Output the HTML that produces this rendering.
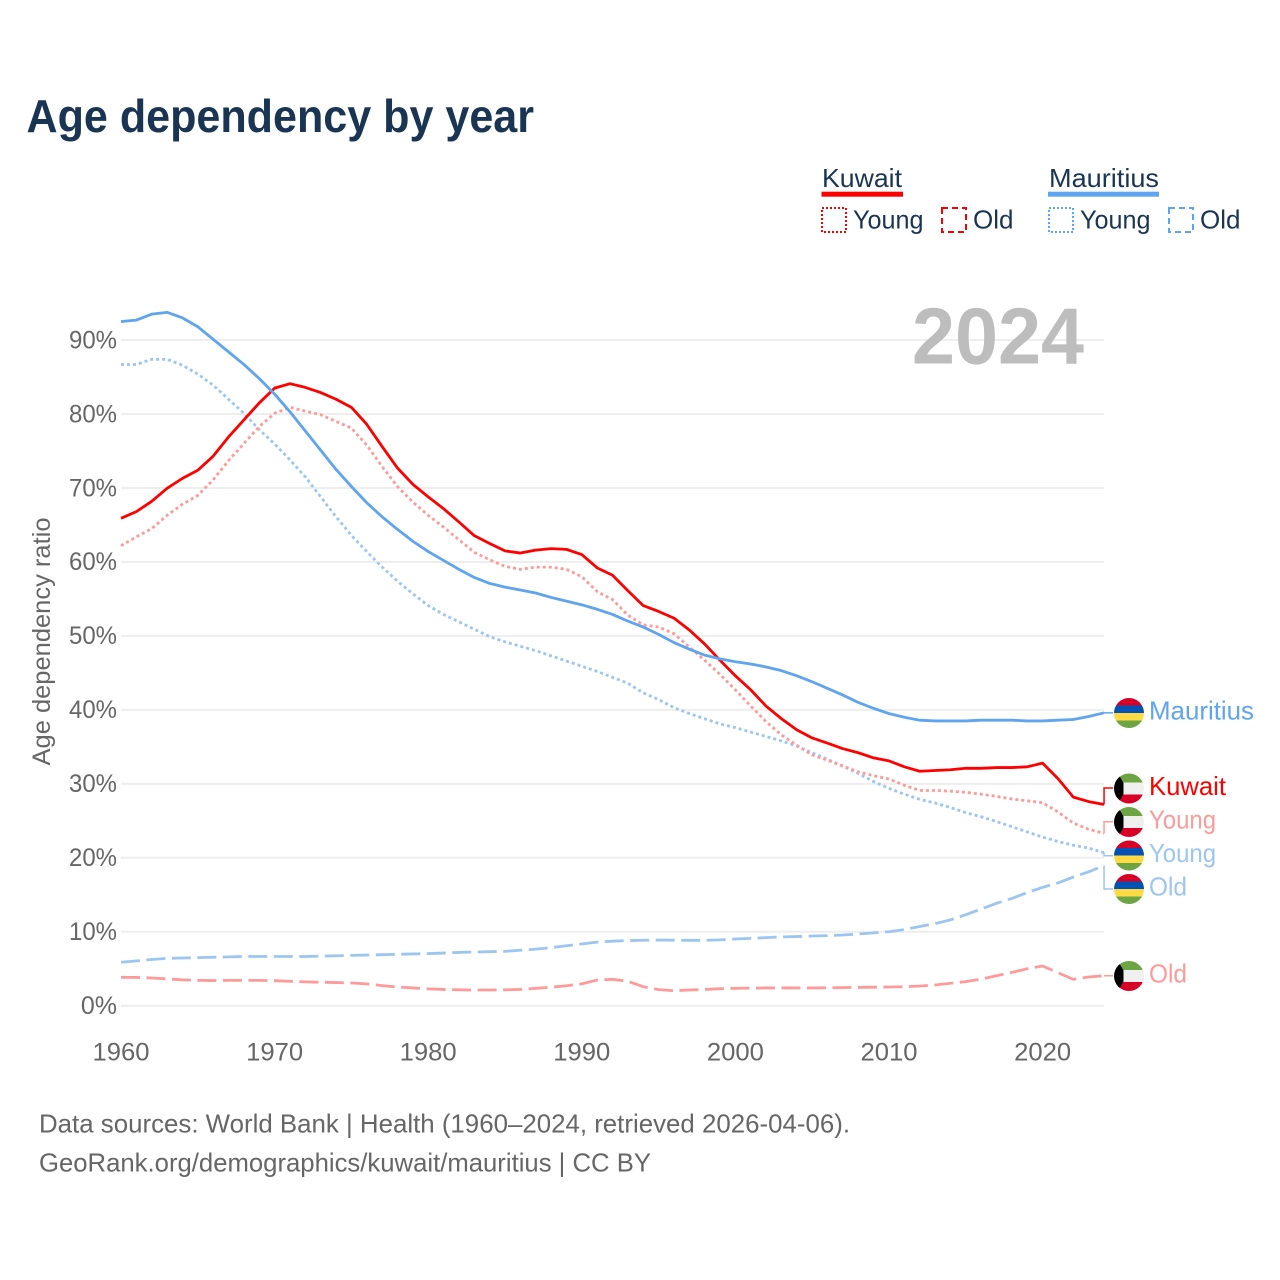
<!DOCTYPE html>
<html lang="en">
<head>
<meta charset="utf-8">
<title>Age dependency by year</title>
<style>
html,body{margin:0;padding:0;background:#fff;width:1280px;height:1280px;overflow:hidden}
svg{display:block}
text{font-family:"Liberation Sans",sans-serif}
</style>
</head>
<body>
<svg id="chart" xmlns="http://www.w3.org/2000/svg" width="1280" height="1280" viewBox="0 0 1280 1280">
  <defs>
    <clipPath id="flag-clip"><circle cx="0" cy="0" r="15"/></clipPath>
    <g id="flag-mu" clip-path="url(#flag-clip)">
      <rect x="-15" y="-15" width="30" height="7.5" fill="#d80027"/>
      <rect x="-15" y="-7.5" width="30" height="7.5" fill="#0052b4"/>
      <rect x="-15" y="0" width="30" height="7.5" fill="#ffda44"/>
      <rect x="-15" y="7.5" width="30" height="7.5" fill="#6da544"/>
    </g>
    <g id="flag-kw" clip-path="url(#flag-clip)">
      <rect x="-15" y="-15" width="30" height="9" fill="#6da544"/>
      <rect x="-15" y="-6" width="30" height="12" fill="#f0f0f0"/>
      <rect x="-15" y="6" width="30" height="9" fill="#d80027"/>
      <polygon points="-15,-15 -9.5,-12.5 -5.5,-5.5 -5.5,5.5 -9.5,12.5 -15,15" fill="#000"/>
    </g>
  </defs>

  <text x="26.5" y="132" font-size="46" font-weight="700" fill="#1a3554" textLength="507.5" lengthAdjust="spacingAndGlyphs">Age dependency by year</text>

  <g id="grid"></g>
  <g id="yticks"></g>
  <g id="xticks"></g>

  <text transform="translate(50,641.5) rotate(-90)" text-anchor="middle" font-size="25" fill="#666" textLength="248" lengthAdjust="spacingAndGlyphs">Age dependency ratio</text>

  <text x="912" y="363.5" font-size="80" font-weight="700" fill="#bdbdbd" textLength="172" lengthAdjust="spacingAndGlyphs">2024</text>

  <g id="series"></g>

  <g>
    <text x="822" y="187" font-size="26" fill="#1a3554" textLength="80" lengthAdjust="spacingAndGlyphs">Kuwait</text>
    <rect x="821.5" y="191.7" width="81.5" height="5" fill="#ff0000"/>
    <rect x="822" y="208" width="24" height="24" fill="none" stroke="#ff0000" stroke-width="2" stroke-dasharray="2 2"/>
    <text x="853" y="228.5" font-size="26" fill="#1a3554" textLength="70.5" lengthAdjust="spacingAndGlyphs">Young</text>
    <rect x="942" y="208" width="24" height="24" fill="none" stroke="#ff0000" stroke-width="2" stroke-dasharray="6 4"/>
    <text x="973" y="228.5" font-size="26" fill="#1a3554" textLength="40.5" lengthAdjust="spacingAndGlyphs">Old</text>

    <text x="1049" y="187" font-size="26" fill="#1a3554" textLength="110" lengthAdjust="spacingAndGlyphs">Mauritius</text>
    <rect x="1048" y="191.7" width="111" height="5" fill="#5fa4ef"/>
    <rect x="1049" y="208" width="24" height="24" fill="none" stroke="#5fa4ef" stroke-width="2" stroke-dasharray="2 2"/>
    <text x="1080" y="228.5" font-size="26" fill="#1a3554" textLength="70.5" lengthAdjust="spacingAndGlyphs">Young</text>
    <rect x="1169" y="208" width="24" height="24" fill="none" stroke="#5fa4ef" stroke-width="2" stroke-dasharray="6 4"/>
    <text x="1200" y="228.5" font-size="26" fill="#1a3554" textLength="40.5" lengthAdjust="spacingAndGlyphs">Old</text>
  </g>

  <g>
    <use href="#flag-mu" x="1129" y="713"/>
    <text x="1149" y="719.5" font-size="26" fill="#5fa4ef" textLength="105" lengthAdjust="spacingAndGlyphs">Mauritius</text>
    <use href="#flag-kw" x="1129" y="788.5"/>
    <text x="1149" y="795" font-size="26" fill="#ff0000" textLength="77" lengthAdjust="spacingAndGlyphs">Kuwait</text>
    <use href="#flag-kw" x="1129" y="822"/>
    <text x="1149" y="828.5" font-size="26" fill="#ff9a9a" textLength="67" lengthAdjust="spacingAndGlyphs">Young</text>
    <use href="#flag-mu" x="1129" y="855.5"/>
    <text x="1149" y="862" font-size="26" fill="#9cc6f1" textLength="67" lengthAdjust="spacingAndGlyphs">Young</text>
    <use href="#flag-mu" x="1129" y="889"/>
    <text x="1149" y="895.5" font-size="26" fill="#9cc6f1" textLength="38" lengthAdjust="spacingAndGlyphs">Old</text>
    <use href="#flag-kw" x="1129" y="976"/>
    <text x="1149" y="982.5" font-size="26" fill="#ff9a9a" textLength="38" lengthAdjust="spacingAndGlyphs">Old</text>
  </g>

  <text x="39" y="1132.7" font-size="26" fill="#666" textLength="811" lengthAdjust="spacingAndGlyphs">Data sources: World Bank | Health (1960–2024, retrieved 2026-04-06).</text>
  <text x="39" y="1171.7" font-size="26" fill="#666" textLength="612" lengthAdjust="spacingAndGlyphs">GeoRank.org/demographics/kuwait/mauritius | CC BY</text>
</svg>

<script>
const startYear = 1960;
const xTickYears = [1960, 1970, 1980, 1990, 2000, 2010, 2020];
const yTickValues = [0, 10, 20, 30, 40, 50, 60, 70, 80, 90];

const mauritiusTotal = [92.5,92.7,93.5,93.75,93.0,91.8,90.1,88.4,86.7,84.8,82.7,80.3,77.7,75.1,72.5,70.2,68.0,66.1,64.4,62.8,61.4,60.2,59.0,57.9,57.1,56.6,56.2,55.8,55.2,54.7,54.2,53.6,52.9,52.0,51.2,50.2,49.1,48.2,47.4,46.9,46.5,46.2,45.8,45.3,44.6,43.8,42.9,42.0,41.0,40.2,39.5,39.0,38.6,38.5,38.5,38.5,38.6,38.6,38.6,38.5,38.5,38.6,38.7,39.1,39.6];
const kuwaitTotal = [65.9,66.8,68.2,69.95,71.3,72.4,74.3,76.9,79.2,81.5,83.5,84.1,83.6,82.9,82.0,80.9,78.6,75.6,72.7,70.5,68.8,67.2,65.4,63.55,62.5,61.5,61.2,61.6,61.8,61.7,61.0,59.2,58.2,56.1,54.1,53.3,52.4,50.8,48.9,46.7,44.6,42.7,40.5,38.8,37.3,36.2,35.5,34.75,34.2,33.5,33.1,32.3,31.7,31.8,31.9,32.1,32.1,32.2,32.2,32.3,32.8,30.7,28.2,27.6,27.2];
const kuwaitYoung = [62.2,63.4,64.5,66.3,67.8,69.0,71.1,73.7,76.0,78.3,80.1,80.9,80.4,79.9,79.0,78.1,75.8,72.9,70.2,68.1,66.3,64.7,63.0,61.3,60.3,59.4,59.0,59.3,59.3,59.0,58.0,56.0,54.9,52.8,51.5,51.2,50.3,48.5,46.7,44.8,42.7,40.5,38.4,36.6,35.2,33.9,33.2,32.4,31.6,31.1,30.65,29.8,29.1,29.1,29.0,28.85,28.6,28.3,27.95,27.7,27.45,26.2,24.7,23.85,23.3];
const mauritiusYoung = [86.7,86.7,87.4,87.4,86.6,85.4,83.9,82.0,80.1,77.9,75.95,73.8,71.5,68.8,66.1,63.6,61.4,59.3,57.4,55.7,54.1,52.9,51.9,50.9,49.9,49.2,48.6,48.0,47.3,46.6,45.9,45.2,44.4,43.6,42.3,41.4,40.3,39.5,38.8,38.1,37.6,37.0,36.4,35.8,35.1,34.2,33.3,32.4,31.4,30.3,29.4,28.6,27.9,27.4,26.8,26.1,25.55,24.9,24.2,23.5,22.8,22.2,21.7,21.3,20.7];
const mauritiusOld = [5.87,6.05,6.25,6.4,6.45,6.5,6.55,6.6,6.65,6.65,6.65,6.65,6.65,6.7,6.75,6.8,6.85,6.9,6.95,7.0,7.05,7.12,7.2,7.25,7.3,7.35,7.5,7.65,7.85,8.1,8.35,8.6,8.72,8.8,8.85,8.88,8.86,8.84,8.84,8.9,9.02,9.1,9.2,9.3,9.35,9.42,9.47,9.56,9.7,9.85,10.0,10.3,10.7,11.1,11.6,12.3,13.07,13.85,14.5,15.3,16.0,16.6,17.4,18.1,18.95];
const kuwaitOld = [3.84,3.82,3.75,3.62,3.5,3.43,3.4,3.42,3.42,3.42,3.38,3.3,3.22,3.17,3.13,3.07,2.95,2.72,2.52,2.4,2.27,2.2,2.15,2.12,2.12,2.15,2.2,2.35,2.5,2.7,2.95,3.47,3.57,3.3,2.57,2.17,2.03,2.12,2.2,2.3,2.35,2.38,2.4,2.4,2.4,2.4,2.42,2.45,2.47,2.5,2.53,2.57,2.66,2.8,3.03,3.25,3.6,4.05,4.5,5.0,5.37,4.46,3.56,3.88,4.05];

const NS = 'http://www.w3.org/2000/svg';
function xScale(year) { return 121 + (year - 1960) * 15.36; }
function yScale(v) { return 1005.7 - v * 7.396; }
function make(tag, attrs, parent) {
  const el = document.createElementNS(NS, tag);
  for (const k in attrs) el.setAttribute(k, attrs[k]);
  parent.appendChild(el);
  return el;
}

const gridG = document.getElementById('grid');
const yG = document.getElementById('yticks');
const xG = document.getElementById('xticks');
const seriesG = document.getElementById('series');

yTickValues.forEach(function (v) {
  const line = make('line', {x1: 121, x2: 1104, y1: yScale(v), y2: yScale(v), stroke: '#eeeeee', 'stroke-width': 2}, gridG);
  
  
  const t = make('text', {x: 117, y: yScale(v) + 8.3, 'text-anchor': 'end', 'font-size': 25, fill: '#666'}, yG);
  if (v > 0) t.setAttribute('textLength', 48);
  if (v > 0) t.setAttribute('lengthAdjust', 'spacingAndGlyphs');
  
  
  t.textContent = v + '%';
});

xTickYears.forEach(function (yr) {
  const t = make('text', {x: xScale(yr), y: 1060.5, 'text-anchor': 'middle', 'font-size': 25, fill: '#666', textLength: 57, lengthAdjust: 'spacingAndGlyphs'}, xG);
  
  
  t.textContent = yr;
});

function drawSeries(name, values, color, dash, width, tail) {
  const pts = values.map(function (v, i) {
    return xScale(startYear + i).toFixed(2) + ',' + yScale(v).toFixed(2);
  });
  const attrs = {points: pts.join(' '), fill: 'none', stroke: color, 'stroke-width': width, 'stroke-linejoin': 'round'};
  if (dash) attrs['stroke-dasharray'] = dash;
  const line = make('polyline', attrs, seriesG);
  
  

  const endX = xScale(startYear + values.length - 1);
  const endY = yScale(values[values.length - 1]);
  const conn = make('polyline', {
    points: tail === null
      ? endX + ',' + endY + ' 1113,' + endY
      : endX + ',' + endY + ' ' + endX + ',' + tail + ' 1113,' + tail,
    fill: 'none', stroke: color, 'stroke-width': 1.5
  }, seriesG);
  
  
}

drawSeries('mauritius-old-line', mauritiusOld, '#9cc6f1', '19 6.5', 2.8, 889);
drawSeries('kuwait-old-line', kuwaitOld, '#ff9a9a', '19 6.5', 2.8, null);
drawSeries('mauritius-young-line', mauritiusYoung, '#9cc6f1', '3 3', 2.8, 855.7);
drawSeries('kuwait-young-line', kuwaitYoung, '#ff9a9a', '3 3', 2.8, 821.7);
drawSeries('kuwait-total-line', kuwaitTotal, '#ff0000', null, 2.8, 788);
drawSeries('mauritius-total-line', mauritiusTotal, '#5fa4ef', null, 2.8, null);
</script>
</body>
</html>
